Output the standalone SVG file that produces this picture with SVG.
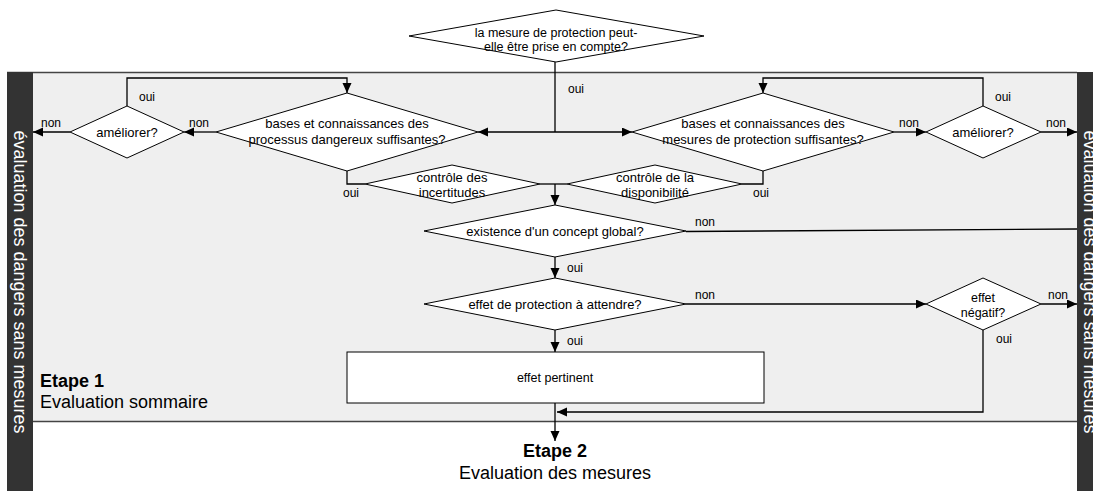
<svg xmlns="http://www.w3.org/2000/svg" width="1093" height="491" viewBox="0 0 1093 491">
<defs>
<style>
.t{font-family:"Liberation Sans",Arial,sans-serif;font-size:13px;fill:#000;text-anchor:middle}
.l{font-family:"Liberation Sans",Arial,sans-serif;font-size:12px;fill:#000}
.big{font-family:"Liberation Sans",Arial,sans-serif;font-size:18px;fill:#000}
.bar{font-family:"Liberation Sans",Arial,sans-serif;font-size:18px;fill:#fff;text-anchor:middle}
.d{fill:#fff;stroke:#000;stroke-width:1}
.c{fill:none;stroke:#000;stroke-width:1.3}
.a{marker-end:url(#ah)}
</style>
<marker id="ah" markerUnits="userSpaceOnUse" markerWidth="11" markerHeight="10" refX="10" refY="4.5" orient="auto"><path d="M0,0 L10,4.5 L0,9 z" fill="#000"/></marker>
</defs>
<rect x="0" y="0" width="1093" height="491" fill="#fff"/>
<g id="band">
<rect x="7" y="72" width="1080" height="350" fill="#efefef"/>
<line x1="7" y1="72.5" x2="1077" y2="72.5" stroke="#444" stroke-width="1.3"/>
<line x1="7" y1="421.5" x2="1077" y2="421.5" stroke="#444" stroke-width="1.3"/>
<rect x="7" y="72" width="26" height="419" fill="#333"/>
<rect x="1077" y="72" width="26" height="419" fill="#333"/>
<text class="bar" transform="translate(20,282) rotate(90)" x="0" y="6.5">évaluation des dangers sans mesures</text>
<text class="bar" transform="translate(1090,282) rotate(90)" x="0" y="6.5">évaluation des dangers sans mesures</text>
<text class="big" x="40" y="387" font-weight="bold">Etape 1</text>
<text class="big" x="40" y="408">Evaluation sommaire</text>
</g>
<g id="connectors">
<polyline class="c" points="555,62 555,132"/>
<line class="c a" x1="555" y1="132" x2="478" y2="132"/>
<line class="c a" x1="555" y1="132" x2="632" y2="132"/>
<line class="c a" x1="216" y1="132" x2="184" y2="132"/>
<line class="c a" x1="70" y1="132" x2="33" y2="132"/>
<polyline class="c a" points="127,106 127,78 347,78 347,93"/>
<line class="c a" x1="894" y1="132" x2="926" y2="132"/>
<line class="c a" x1="1041" y1="132" x2="1077" y2="132"/>
<polyline class="c a" points="983,106 983,78 763,78 763,93"/>
<polyline class="c" points="347,171 347,184 365,184"/>
<polyline class="c" points="763,171 763,184 742,184"/>
<line class="c" x1="540" y1="184" x2="567" y2="184"/>
<line class="c a" x1="555" y1="184" x2="555" y2="205"/>
<line class="c" x1="686" y1="231.5" x2="1077" y2="229"/>
<line class="c a" x1="555" y1="257" x2="555" y2="278"/>
<line class="c a" x1="686" y1="304" x2="926" y2="304"/>
<line class="c a" x1="1041" y1="304" x2="1077" y2="304"/>
<line class="c a" x1="555" y1="330" x2="555" y2="352"/>
<polyline class="c a" points="983,330 983,412 557,412"/>
<line class="c a" x1="555" y1="403" x2="555" y2="441"/>
<text class="l" x="568" y="93">oui</text>
<text class="l" x="139" y="101">oui</text>
<text class="l" x="41" y="127">non</text>
<text class="l" x="189" y="127">non</text>
<text class="l" x="899" y="127">non</text>
<text class="l" x="995" y="101">oui</text>
<text class="l" x="1046" y="127">non</text>
<text class="l" x="343" y="197">oui</text>
<text class="l" x="753" y="197">oui</text>
<text class="l" x="695" y="226">non</text>
<text class="l" x="567" y="272">oui</text>
<text class="l" x="695" y="299">non</text>
<text class="l" x="567" y="345">oui</text>
<text class="l" x="1048" y="299">non</text>
<text class="l" x="996" y="343">oui</text>
</g>
<g id="n-top">
<polygon class="d" points="409,36 556,10 704,36 556,62"/>
<text class="t" x="556" y="36.5" style="font-size:12.5px">la mesure de protection peut-</text>
<text class="t" x="556" y="50.5" style="font-size:12.5px">elle être prise en compte?</text>
</g>
<g id="n-bases-proc">
<polygon class="d" points="216,132 347,93 478,132 347,171"/>
<text class="t" x="347" y="127.5">bases et connaissances des</text>
<text class="t" x="347" y="144">processus dangereux suffisantes?</text>
</g>
<g id="n-ameliorer-l">
<polygon class="d" points="70,132 127,106 184,132 127,158"/>
<text class="t" x="127" y="136.5">améliorer?</text>
</g>
<g id="n-bases-mes">
<polygon class="d" points="632,132 763,93 894,132 763,171"/>
<text class="t" x="763" y="127.5">bases et connaissances des</text>
<text class="t" x="763" y="144">mesures de protection suffisantes?</text>
</g>
<g id="n-ameliorer-r">
<polygon class="d" points="926,132 983,106 1041,132 983,158"/>
<text class="t" x="983" y="136.5">améliorer?</text>
</g>
<g id="n-incert">
<polygon class="d" points="365,184 452,165 540,184 452,203"/>
<text class="t" x="452" y="181.5">contrôle des</text>
<text class="t" x="452" y="196.5">incertitudes</text>
</g>
<g id="n-dispo">
<polygon class="d" points="567,184 655,165 742,184 655,203"/>
<text class="t" x="655" y="181.5">contrôle de la</text>
<text class="t" x="655" y="196.5">disponibilité</text>
</g>
<g id="n-concept">
<polygon class="d" points="424,231 555,205 686,231 555,257"/>
<text class="t" x="555" y="236">existence d'un concept global?</text>
</g>
<g id="n-effet">
<polygon class="d" points="424,304 555,278 686,304 555,330"/>
<text class="t" x="555" y="308.5">effet de protection à attendre?</text>
</g>
<g id="n-negatif">
<polygon class="d" points="926,304 983,278 1041,304 983,330"/>
<text class="t" x="983" y="302" style="font-size:12.5px">effet</text>
<text class="t" x="983" y="317" style="font-size:12.5px">négatif?</text>
</g>
<g id="n-pertinent">
<rect class="d" x="347" y="352" width="417" height="51"/>
<text class="t" x="555" y="381.5" style="font-size:12.5px">effet pertinent</text>
</g>
<g id="n-etape2">
<text class="big" x="555" y="457" font-weight="bold" text-anchor="middle">Etape 2</text>
<text class="big" x="555" y="479" text-anchor="middle">Evaluation des mesures</text>
</g>
</svg>
